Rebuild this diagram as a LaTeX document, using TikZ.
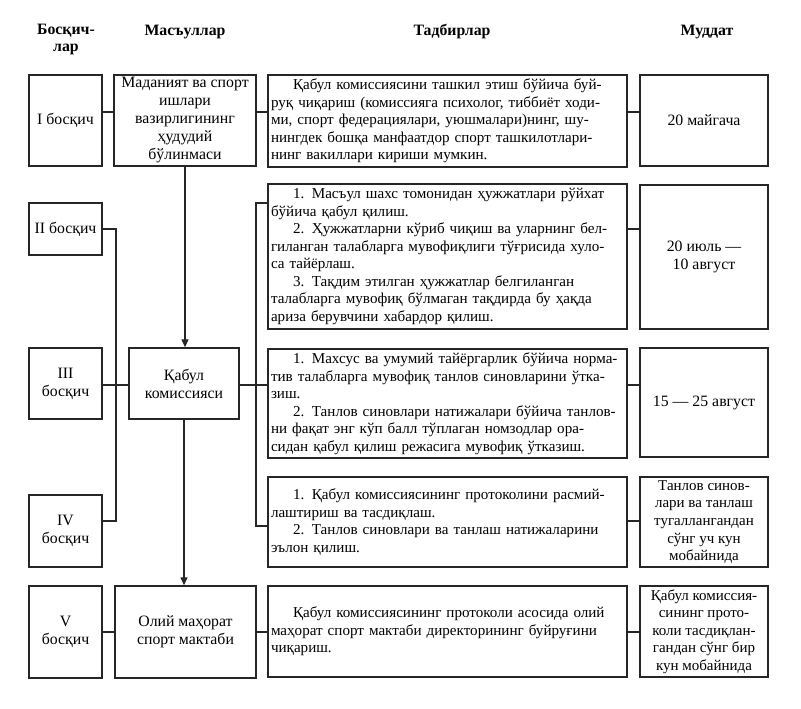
\documentclass[tikz,border=0pt]{standalone}
\usepackage{fontspec}
\setmainfont{Liberation Serif}
\usetikzlibrary{arrows.meta}
\newlength\tw
\setlength\tw{353pt}
\newcommand\J[1]{\makebox[\tw][s]{#1}\\}
\newcommand\Lst[1]{\makebox[\tw][l]{#1}}
\newcommand\IND{\hspace*{22pt}}
\newcommand\bx[6][]{\node[box,#1,minimum width={#5pt-#3pt},minimum height={#6pt-#4pt}] (#2) at ({(#3+#5)/2},{(#4+#6)/2})}
\begin{document}
\begin{tikzpicture}[x=1pt,y=-1pt,
  box/.style={draw=black!85,line width=1.4pt,inner sep=0pt,align=center,
    font=\fontsize{15.8}{18}\selectfont},
  small/.style={font=\fontsize{15}{17.6}\selectfont},
  para/.style={text width=\tw,align=left,font=\fontsize{15.1}{17.5}\selectfont},
  conn/.style={draw=black!85,line width=1.3pt},
  arr/.style={conn,-{Triangle[length=8pt,width=7pt]}},
  head/.style={font=\fontsize{15.8}{17}\selectfont\bfseries,align=center}]
\useasboundingbox (0,0) rectangle (801,709);
% headers
\node[head] (h1) at (66,40) {Босқич-\\лар};
\node[head] (h2) at (185,32) {Масъуллар};
\node[head] (h3) at (452,32) {Тадбирлар};
\node[head] (h4) at (707,32) {Муддат};
% stage boxes
\bx{s1}{29}{75}{102}{166}{I босқич};
\bx{s2}{29}{203}{102}{255}{II босқич};
\bx{s3}{29}{348}{102}{419}{III\\босқич};
\bx{s4}{29}{495}{102}{567}{IV\\босқич};
\bx{s5}{29}{586}{102}{678}{V\\босқич};
% responsible
\bx{m1}{114}{75}{256}{166}{Маданият ва спорт\\ишлари\\вазирлигининг\\ҳудудий\\бўлинмаси};
\bx{qk}{129}{348}{239}{419}{Қабул\\комиссияси};
\bx{ol}{115}{586}{256}{678}{Олий маҳорат\\спорт мактаби};
% measures
\bx[para]{t1}{268}{75}{627}{167}{\noindent
\J{\IND Қабул комиссиясини ташкил этиш бўйича буй-}
\J{руқ чиқариш (комиссияга психолог, тиббиёт ходи-}
\J{ми, спорт федерациялари, уюшмалари)нинг, шу-}
\J{нингдек бошқа манфаатдор спорт ташкилотлари-}
\Lst{нинг вакиллари кириши мумкин.}};
\bx[para]{t2}{268}{184}{627}{329}{\noindent
\J{\IND 1. Масъул шахс томонидан ҳужжатлари рўйхат}
\Lst{бўйича қабул қилиш.}\\
\J{\IND 2. Ҳужжатларни кўриб чиқиш ва уларнинг бел-}
\J{гиланган талабларга мувофиқлиги тўғрисида хуло-}
\Lst{са тайёрлаш.}\\
\J{\IND 3. Тақдим этилган ҳужжатлар белгиланган}
\J{талабларга мувофиқ бўлмаган тақдирда бу ҳақда}
\Lst{ариза берувчини хабардор қилиш.}};
\bx[para]{t3}{268}{349}{627}{458}{\noindent
\J{\IND 1. Махсус ва умумий тайёргарлик бўйича норма-}
\J{тив талабларга мувофиқ танлов синовларини ўтка-}
\Lst{зиш.}\\
\J{\IND 2. Танлов синовлари натижалари бўйича танлов-}
\J{ни фақат энг кўп балл тўплаган номзодлар ора-}
\Lst{сидан қабул қилиш режасига мувофиқ ўтказиш.}};
\bx[para]{t4}{268}{477}{627}{567}{\noindent
\J{\IND 1. Қабул комиссиясининг протоколини расмий-}
\Lst{лаштириш ва тасдиқлаш.}\\
\J{\IND 2. Танлов синовлари ва танлаш натижаларини}
\Lst{эълон қилиш.}};
\bx[para]{t5}{268}{586}{627}{677}{\noindent
\J{\IND Қабул комиссиясининг протоколи асосида олий}
\J{маҳорат спорт мактаби директорининг буйруғини}
\Lst{чиқариш.}};
% deadlines
\bx{d1}{640}{75}{768}{166}{20 майгача};
\bx{d2}{640}{185}{768}{329}{20 июль —\\10 август};
\bx{d3}{640}{348}{768}{457}{15 — 25 август};
\bx[small]{d4}{640}{477}{768}{567}{Танлов синов-\\лари ва танлаш\\тугаллангандан\\сўнг уч кун\\мобайнида};
\bx[small]{d5}{640}{586}{768}{677}{Қабул комиссия-\\сининг прото-\\коли тасдиқлан-\\гандан сўнг бир\\кун мобайнида};
% helper coordinates
\coordinate (r1) at (0,112);
\coordinate (r2) at (0,229);
\coordinate (r3) at (0,385);
\coordinate (r4) at (0,521);
\coordinate (r5) at (0,632);
\coordinate (lbt) at (116,229);
\coordinate (lbb) at (116,521);
\coordinate (rbt) at (256,203);
\coordinate (rbb) at (256,526);
% row 1
\draw[conn] (s1.east |- r1) -- (m1.west |- r1);
\draw[conn] (m1.east |- r1) -- (t1.west |- r1);
\draw[conn] (t1.east |- r1) -- (d1.west |- r1);
% left bracket
\draw[conn] (s2.east |- lbt) -- (lbt) -- (lbb) -- (s4.east |- lbb);
\draw[conn] (s3.east |- r3) -- (qk.west |- r3);
% right bracket
\draw[conn] (t2.west |- rbt) -- (rbt) -- (rbb) -- (t4.west |- rbb);
\draw[conn] (qk.east |- r3) -- (t3.west |- r3);
% deadlines links
\draw[conn] (t2.east |- r2) -- (d2.west |- r2);
\draw[conn] (t3.east |- r3) -- (d3.west |- r3);
\draw[conn] (t4.east |- r4) -- (d4.west |- r4);
% row 5
\draw[conn] (s5.east |- r5) -- (ol.west |- r5);
\draw[conn] (ol.east |- r5) -- (t5.west |- r5);
\draw[conn] (t5.east |- r5) -- (d5.west |- r5);
% arrows
\draw[arr] (m1.south) -- (m1.south |- qk.north);
\draw[arr] (qk.south) -- (qk.south |- ol.north);
\end{tikzpicture}
\end{document}
